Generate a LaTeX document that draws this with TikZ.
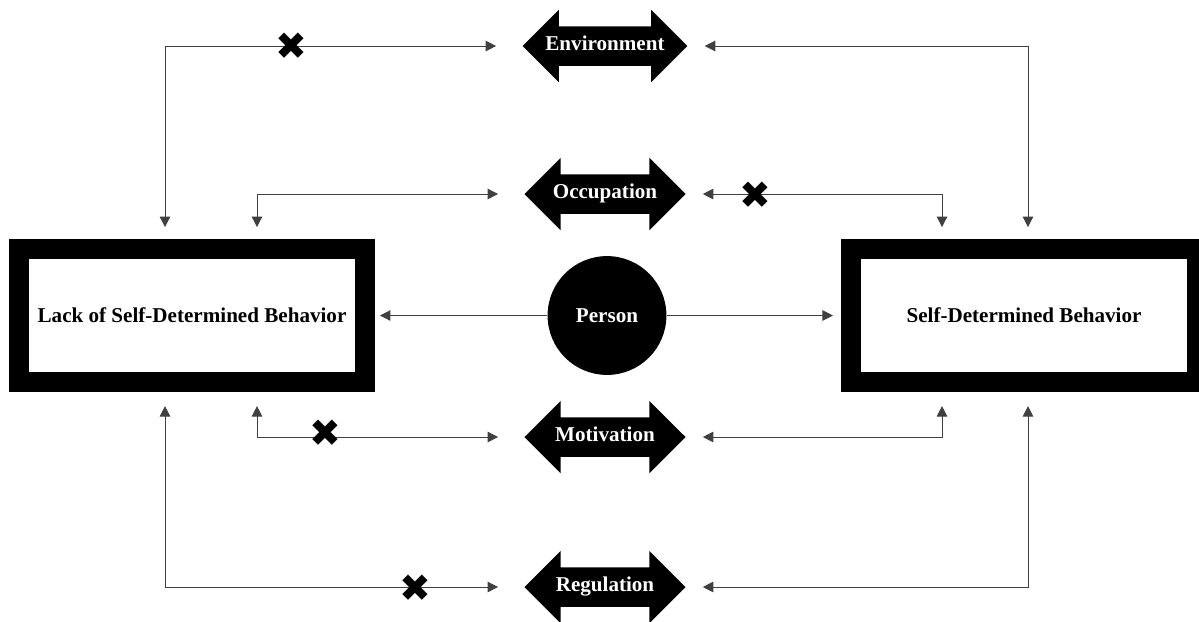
\documentclass[tikz,border=0pt]{standalone}
\usepackage{fontspec}
\setmainfont{Liberation Serif}
\newfontfamily\symbolfont{DejaVu Sans}
\usetikzlibrary{arrows.meta,shapes.arrows}

\begin{document}
\begin{tikzpicture}[x = 0.025cm, y = -0.025cm,
    >={Triangle[length=7.5pt, width=7.5pt]},
    boldtext/.style = {font=\bfseries\fontsize{15}{18}\selectfont},
    behaviour/.style = {boldtext, draw, line width=14.2pt, minimum width=246.1pt, minimum height=94.6pt, inner sep=0pt},
    factor/.style = {boldtext, double arrow, fill=black, text=white, minimum height=114.5pt, double arrow head extend=11.7pt, text height=10pt, text depth=3pt, inner ysep=7.35pt, inner xsep=2pt},
    link/.style = {line width=0.7pt, black!75},
    cross/.style = {font=\symbolfont\fontsize{27}{27}\selectfont, inner sep=0pt}]
    \useasboundingbox (0,0) rectangle (1199,621);

    % the two outcomes and the person
    \node[behaviour] (lack) at (192,315.5) {Lack of Self-Determined Behavior};
    \node[behaviour] (sdb) at (1024,315.5) {Self-Determined Behavior};
    \node[boldtext, circle, fill=black, text=white, minimum size=84.5pt, inner sep=0pt] (person) at (607,315.5) {Person};

    % factors
    \node[factor] (env) at (605,46) {Environment};
    \node[factor] (occ) at (605,194) {Occupation};
    \node[factor] (mot) at (605,437) {Motivation};
    \node[factor] (reg) at (605,587) {Regulation};

    \coordinate (laneA) at (165,0);
    \coordinate (laneB) at (257,0);
    \coordinate (laneC) at (942,0);
    \coordinate (laneD) at (1028,0);

    \draw[link, <->, shorten <=18.5pt, shorten >=8.5pt] (env.west) -| (lack.north -| laneA);
    \draw[link, <->, shorten <=12pt, shorten >=8.5pt] (env.east) -| (sdb.north -| laneD);
    \draw[link, <->, shorten <=18.5pt, shorten >=8.5pt] (occ.west) -| (lack.north -| laneB);
    \draw[link, <->, shorten <=12pt, shorten >=8.5pt] (occ.east) -| (sdb.north -| laneC);

    \draw[link, ->, shorten >=3.5pt] (person.west) -- (lack.east);
    \draw[link, ->, shorten >=5.7pt] (person.east) -- (sdb.west);

    \draw[link, <->, shorten <=18.5pt, shorten >=10pt] (mot.west) -| (lack.south -| laneB);
    \draw[link, <->, shorten <=12pt, shorten >=10pt] (mot.east) -| (sdb.south -| laneC);
    \draw[link, <->, shorten <=18.5pt, shorten >=10pt] (reg.west) -| (lack.south -| laneA);
    \draw[link, <->, shorten <=12pt, shorten >=10pt] (reg.east) -| (sdb.south -| laneD);

    % broken links
    \node[cross] (xenv) at (291,46) {✖};
    \node[cross] (xocc) at (755,195) {✖};
    \node[cross] (xmot) at (325,433) {✖};
    \node[cross] (xreg) at (415,588) {✖};
\end{tikzpicture}
\end{document}
